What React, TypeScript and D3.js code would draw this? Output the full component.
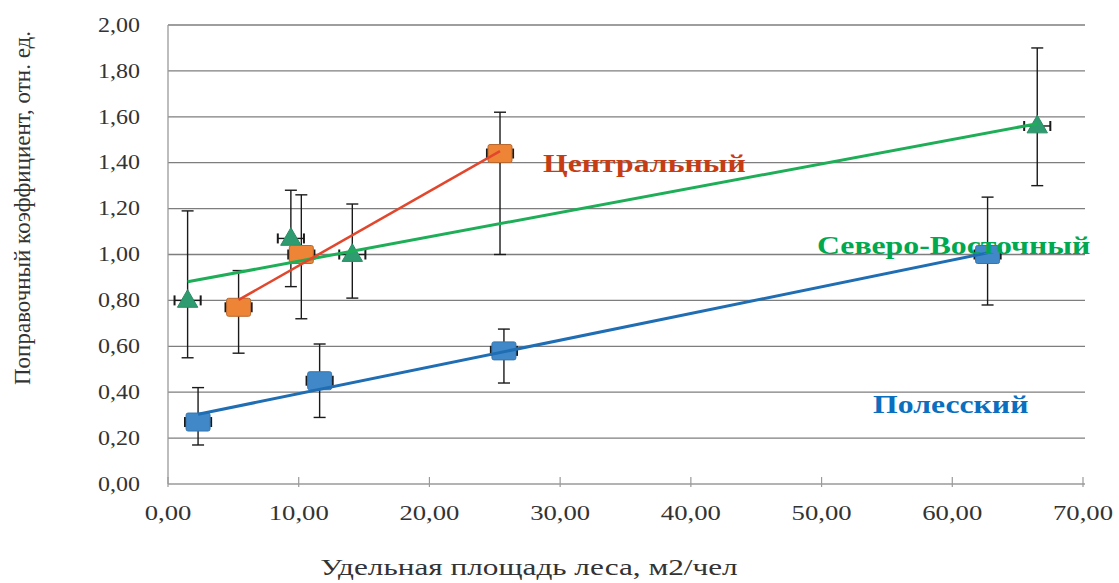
import React from "react";
import * as d3 from "d3";

// Axis ticks
const xTicks = [0, 10, 20, 30, 40, 50, 60, 70];
const yTicks = [0, 0.2, 0.4, 0.6, 0.8, 1.0, 1.2, 1.4, 1.6, 1.8, 2.0];

// Полесский
const polesskyX = [2.3, 11.6, 25.7, 62.7];
const polesskyY = [0.27, 0.45, 0.58, 1.0];
const polesskyHi = [0.42, 0.61, 0.675, 1.25];
const polesskyLo = [0.17, 0.29, 0.44, 0.78];

// Центральный
const centralX = [5.4, 10.2, 25.4];
const centralY = [0.77, 1.0, 1.44];
const centralHi = [0.93, 1.26, 1.62];
const centralLo = [0.57, 0.72, 1.0];

// Северо-Восточный
const northEastX = [1.5, 9.4, 14.1, 66.5];
const northEastY = [0.8, 1.07, 1.0, 1.56];
const northEastHi = [1.19, 1.28, 1.22, 1.9];
const northEastLo = [0.55, 0.86, 0.81, 1.3];

// Horizontal uncertainty, м2/чел
const xErr = 1.0;

const W = 1119;
const H = 583;
const FONT = "'Liberation Serif', 'Times New Roman', serif";
const SX = 1.2;

type Series = {
  name: string;
  xs: number[];
  ys: number[];
  hi: number[];
  lo: number[];
  marker: "square" | "triangle";
  fill: string;
  stroke: string;
  line: string;
  lineWidth: number;
};

const series: Series[] = [
  {
    name: "Полесский",
    xs: polesskyX,
    ys: polesskyY,
    hi: polesskyHi,
    lo: polesskyLo,
    marker: "square",
    fill: "#4088c8",
    stroke: "#3576b0",
    line: "#1f6db3",
    lineWidth: 3,
  },
  {
    name: "Северо-Восточный",
    xs: northEastX,
    ys: northEastY,
    hi: northEastHi,
    lo: northEastLo,
    marker: "triangle",
    fill: "#2e9c70",
    stroke: "#2a8c64",
    line: "#1fae58",
    lineWidth: 3,
  },
  {
    name: "Центральный",
    xs: centralX,
    ys: centralY,
    hi: centralHi,
    lo: centralLo,
    marker: "square",
    fill: "#ee8536",
    stroke: "#b8682e",
    line: "#e2462c",
    lineWidth: 2.5,
  },
];

// Least-squares linear trend
function trend(xs: number[], ys: number[]) {
  const mx = d3.mean(xs)!;
  const my = d3.mean(ys)!;
  let sxy = 0;
  let sxx = 0;
  xs.forEach((x, i) => {
    sxy += (x - mx) * (ys[i] - my);
    sxx += (x - mx) * (x - mx);
  });
  const k = sxy / sxx;
  const b = my - k * mx;
  const [x0, x1] = d3.extent(xs) as [number, number];
  return [
    [x0, k * x0 + b],
    [x1, k * x1 + b],
  ] as [number, number][];
}

function Txt(props: {
  x: number;
  y: number;
  children: React.ReactNode;
  anchor?: string;
  size: number;
  fill?: string;
  weight?: string | number;
  baseline?: string;
  rotate?: number;
  scaleX?: number;
}) {
  const { x, y, children, anchor = "start", size, fill = "#333", weight = "normal", baseline, rotate = 0, scaleX = SX } = props;
  return (
    <text
      transform={`translate(${x},${y}) rotate(${rotate}) scale(${scaleX},1)`}
      textAnchor={anchor}
      dominantBaseline={baseline}
      fontFamily={FONT}
      fontSize={size}
      fontWeight={weight}
      fill={fill}
    >
      {children}
    </text>
  );
}

export default function App() {
  const x = d3.scaleLinear().domain([0, 70]).range([168, 1083]);
  const y = d3.scaleLinear().domain([0, 2]).range([484, 25]);
  const line = d3
    .line<[number, number]>()
    .x((d) => x(d[0]))
    .y((d) => y(d[1]));
  const fmt = (v: number) => d3.format(".2f")(v).replace(".", ",");
  const cap = 6;
  const xCap = 5;

  return (
    <svg
      width={W}
      height={H}
      style={{ position: "absolute", left: 0, top: 0, background: "#fff" }}
    >
      {/* grid */}
      {yTicks.slice(1).map((t) => (
        <line key={t} x1={x(0)} x2={x(70) + 2} y1={y(t)} y2={y(t)} stroke="#7e7e7e" strokeWidth={1.3} />
      ))}
      {/* axes */}
      <line x1={x(0)} x2={x(0)} y1={y(2)} y2={y(0)} stroke="#9a9a9a" strokeWidth={1.3} />
      <line x1={x(0)} x2={x(70) + 2} y1={y(0)} y2={y(0)} stroke="#9a9a9a" strokeWidth={1.3} />
      {xTicks.map((t) => (
        <line key={t} x1={x(t)} x2={x(t)} y1={y(0) - 7} y2={y(0) + 3} stroke="#9a9a9a" strokeWidth={1.2} />
      ))}

      {/* tick labels */}
      {yTicks.map((t) => (
        <Txt key={t} x={140} y={y(t)} anchor="end" baseline="central" size={20} scaleX={1.2}>
          {fmt(t)}
        </Txt>
      ))}
      {xTicks.map((t) => (
        <Txt key={t} x={x(t)} y={513} anchor="middle" baseline="central" size={21} scaleX={1.27}>
          {fmt(t)}
        </Txt>
      ))}

      {/* axis titles */}
      <Txt x={529} y={575} anchor="middle" size={23} scaleX={1.36}>
        Удельная площадь леса, м2/чел
      </Txt>
      <Txt x={30} y={208} anchor="middle" size={23} rotate={-90} scaleX={1}>
        Поправочный коэффициент, отн. ед.
      </Txt>

      {/* error bars */}
      {series.map((s) => (
        <g key={s.name + "-err"} stroke="#1a1a1a" strokeWidth={1.4}>
          {s.xs.map((xv, i) => (
            <g key={i}>
              <line x1={x(xv)} x2={x(xv)} y1={y(s.hi[i])} y2={y(s.lo[i])} />
              <line x1={x(xv) - cap} x2={x(xv) + cap} y1={y(s.hi[i])} y2={y(s.hi[i])} />
              <line x1={x(xv) - cap} x2={x(xv) + cap} y1={y(s.lo[i])} y2={y(s.lo[i])} />
              <line x1={x(xv - xErr)} x2={x(xv + xErr)} y1={y(s.ys[i])} y2={y(s.ys[i])} />
              <line x1={x(xv - xErr)} x2={x(xv - xErr)} y1={y(s.ys[i]) - xCap} y2={y(s.ys[i]) + xCap} strokeWidth={2} />
              <line x1={x(xv + xErr)} x2={x(xv + xErr)} y1={y(s.ys[i]) - xCap} y2={y(s.ys[i]) + xCap} strokeWidth={2} />
            </g>
          ))}
        </g>
      ))}

      {/* markers */}
      {series.map((s) => (
        <g key={s.name + "-m"}>
          {s.xs.map((xv, i) => {
            const cx = x(xv);
            const cy = y(s.ys[i]);
            if (s.marker === "square") {
              return (
                <rect key={i} x={cx - 12} y={cy - 9} width={24} height={18} rx={2} fill={s.fill} stroke={s.stroke} strokeWidth={1} />
              );
            }
            const tri = d3.symbol(d3.symbolTriangle, 180)();
            return <path key={i} d={tri!} transform={`translate(${cx},${cy + 1})`} fill={s.fill} stroke={s.stroke} strokeWidth={1} />;
          })}
        </g>
      ))}

      {/* trend lines */}
      {series.map((s) => (
        <path key={s.name + "-t"} d={line(trend(s.xs, s.ys))!} fill="none" stroke={s.line} strokeWidth={s.lineWidth} />
      ))}

      {/* series labels */}
      <Txt x={543} y={172} size={25} weight="bold" fill="#c83c14" scaleX={1.27}>
        Центральный
      </Txt>
      <Txt x={817} y={254} size={25} weight="bold" fill="#00a84f" scaleX={1.27}>
        Северо-Восточный
      </Txt>
      <Txt x={873} y={413} size={25} weight="bold" fill="#0b6fbf" scaleX={1.27}>
        Полесский
      </Txt>
    </svg>
  );
}
